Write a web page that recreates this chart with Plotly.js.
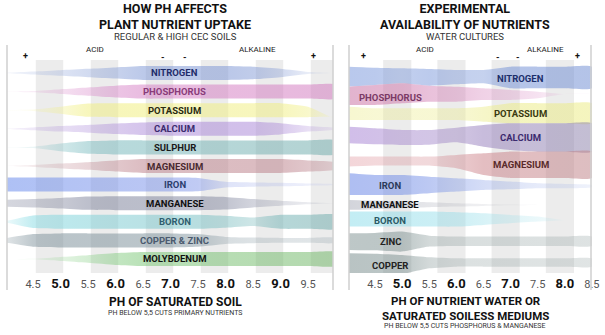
<!DOCTYPE html>
<html><head><meta charset="utf-8">
<script src="https://cdn.plot.ly/plotly-3.0.1.min.js"></script>
<style>html,body{margin:0;padding:0;background:#fff}#chart{width:605px;height:335px}</style>
</head><body><div id="chart"></div>
<script>
// ===== LEFT PANEL: regular & high CEC soils (relative availability, 1 = full band) =====
const soilPH = [4.0,4.5,5.0,5.5,6.0,6.5,7.0,7.5,8.0,8.5,9.0,9.5,10.0];
const soilNutrients = ['NITROGEN','PHOSPHORUS','POTASSIUM','CALCIUM','SULPHUR','MAGNESIUM','IRON','MANGANESE','BORON','COPPER & ZINC','MOLYBDENUM'];
const soilNitrogen   = [0,0.2,0.4,0.6,0.8,1,1,1,1,0.9,0.6,0.15,0];
const soilPhosphorus = [0,0.1,0.35,0.6,0.85,1,1,1,1,1,1,1,1];
const soilPotassium  = [0,0.1,0.5,0.95,1,1,1,1,1,1,1,1,1];
const soilPotassiumTop = [0,0.1,0.5,0.95,1,1,1,1,1,1,1,0.5,-1.2];
const soilCalcium    = [0,0.2,0.4,0.55,0.75,0.9,1,1,1,1,0.8,0.4,0.1];
const soilSulphur    = [0,0.1,0.55,0.9,1,1,1,1,1,1,1,1,1];
const soilMagnesium  = [0,0.15,0.35,0.55,0.8,1,1,1,1,1,1,0.8,0.5];
const soilIron       = [1,1,1,1,1,1,1,0.95,0.4,0.3,0.25,0.15,0.05];
const soilManganese  = [0.5,0.6,0.75,0.95,1,1,1,1,0.9,0.6,0.35,0.15,0];
const soilBoron      = [0.1,0.9,1,1,1,1,1,1,0.85,0.6,1,1,1];
const soilCopperZinc = [0.3,0.9,1,1,1,1,1,0.9,0.5,0.4,0.35,0.35,0.35];
const soilMolybdenum = [0,0.05,0.3,0.55,0.85,1,1,1,1,1,1,1,1];
const soilTicks = [4.5,5.0,5.5,6.0,6.5,7.0,7.5,8.0,8.5,9.0,9.5];
const soilLabelPH = 7.08;

// ===== RIGHT PANEL: water cultures (upper / lower extent of each band) =====
const waterPH = [4.0,4.5,5.0,5.5,6.0,6.5,7.0,7.5,8.0,8.5];
const waterNutrients = ['NITROGEN','PHOSPHORUS','POTASSIUM','CALCIUM','MAGNESIUM','IRON','MANGANESE','BORON','ZINC','COPPER'];
const waterRows = [0,0.97,1.88,3.12,4.62,5.75,6.77,7.63,8.76,10.0];
const waterNitrogenUp   = [1.76,1.62,1.53,1.43,1.29,1.29,1.76,1.76,1.76,1.76];
const waterNitrogenDn   = [1.1,0.86,0.62,0.96,0.76,0.62,1.33,1.33,1.33,1.33];
const waterPhosphorusUp = [1.47,1.71,1.96,1.61,1.47,1.24,1.0,0.76,0.43,0.43];
const waterPhosphorusDn = [1.14,1.14,0.9,0.67,0.67,0.43,0.43,0.19,-0.43,-0.43];
const waterPotassiumUp  = [1.04,0.81,0.81,0.81,0.81,1.04,1.53,1.53,1.53,1.53];
const waterPotassiumDn  = [0.86,0.86,0.86,0.86,0.86,1.1,1.33,1.33,1.33,1.33];
const waterCalciumUp    = [1.47,1.24,1.0,1.0,1.33,1.71,1.96,1.96,1.96,1.96];
const waterCalciumDn    = [0.9,1.04,1.14,1.1,0.76,1.38,1.86,2.1,2.1,2.1];
const waterMagnesiumUp  = [1.19,1.19,1.19,1.19,1.43,1.67,1.9,1.9,1.9,1.9];
const waterMagnesiumDn  = [0.24,0.1,0.1,0.1,0.48,1.43,1.86,1.86,1.86,1.86];
const waterIronUp       = [1.81,1.57,1.57,1.33,1.1,0.86,0.62,0.38,0.29,0.14];
const waterIronDn       = [1.29,1.29,1.29,1.05,0.81,0.57,0.48,0.33,0.33,0.19];
const waterManganeseUp  = [0.71,0.62,0.48,0.38,0.24,0.14,0.05,0,0,0];
const waterManganeseDn  = [0.71,0.62,0.48,0.33,0.24,0.14,0.05,0,0,0];
const waterBoronUp      = [1.33,1.33,1.33,1.33,1.24,1.1,0.86,0.62,0.1,0.1];
const waterBoronDn      = [0.81,0.81,0.81,0.81,0.81,0.57,0.33,0.1,-0.1,-0.1];
const waterZincUp       = [1.24,1.29,1.48,0.9,0.76,0.76,0.76,0.76,0.76,0.76];
const waterZincDn       = [1.14,1.2,1.38,0.67,0.57,0.57,0.57,0.57,0.57,0.57];
const waterCopperUp     = [1.67,1.62,1.43,1.1,0.95,0.95,0.95,0.95,0.95,0.95];
const waterCopperDn     = [1.43,1.43,1.29,0.48,0.24,0.24,0.24,0.24,0.24,0.24];
const waterTicks = [4.5,5.0,5.5,6.0,6.5,7.0,7.5,8.0,8.5];
const waterLabelPH = [7.19,4.78,7.19,7.19,7.19,4.78,4.78,4.78,4.78,4.78];

// ===== styles =====
const W = 605, H = 335;
const S = 7/18.6;        // half thickness of a full band in row units
const soilColors = [
  [[130,155,215],[120,145,210]], [[215,130,200],[210,120,190]], [[240,238,120],[240,238,130]],
  [[165,130,215],[170,135,215]], [[120,190,195],[110,170,170]], [[190,130,140],[185,125,135]],
  [[100,135,235],[150,160,230]], [[120,125,150],[130,135,160]], [[130,220,230],[110,170,170]],
  [[120,140,150],[130,150,160]], [[130,210,130],[110,180,100]]];
const soilLabelColors = ['#1f2d6b','#8a3c7a','#2a2a10','#3a2a6e','#1a1a1a','#4a2a30','#2c3e6e','#111111','#2f5e6e','#4a5a6e','#111111'];
const waterColors = [
  [[120,150,220],[110,140,210]], [[200,110,160],[225,150,210]], [[235,235,140],[235,235,130]],
  [[160,120,210],[140,130,170]], [[220,130,140],[190,130,135]], [[100,130,230],[150,170,230]],
  [[120,125,145],[170,170,180]], [[120,215,230],[170,225,235]], [[120,140,140],[150,165,165]],
  [[120,140,140],[150,165,165]]];
const waterLabelColors = ['#1c2f6b','#7b3a66','#3a3a10','#3b2a6e','#5a2b2b','#2b3a5a','#111111','#2b5a66','#222222','#222222'];

const soilValues = [soilNitrogen,soilPhosphorus,soilPotassium,soilCalcium,soilSulphur,soilMagnesium,soilIron,soilManganese,soilBoron,soilCopperZinc,soilMolybdenum];
const waterUp = [waterNitrogenUp,waterPhosphorusUp,waterPotassiumUp,waterCalciumUp,waterMagnesiumUp,waterIronUp,waterManganeseUp,waterBoronUp,waterZincUp,waterCopperUp];
const waterDn = [waterNitrogenDn,waterPhosphorusDn,waterPotassiumDn,waterCalciumDn,waterMagnesiumDn,waterIronDn,waterManganeseDn,waterBoronDn,waterZincDn,waterCopperDn];

function band(xs, center, up, dn, cols, xa, ya, norm){
  const n = xs.length;
  const x = xs.concat(xs.slice().reverse());
  const top = xs.map((_, i) => center - up[i]*S);
  const bot = xs.map((_, i) => center + dn[i]*S).reverse();
  const x0 = xs[0], x1 = xs[n-1];
  const cs = xs.map((v, i) => {
    const f = (v - x0)/(x1 - x0);
    const t = Math.max(0, Math.min(1, (up[i]+dn[i])/2/norm));
    const a = 0.1 + 0.42*t;
    const c = cols[0].map((c0, k) => Math.round(c0 + (cols[1][k]-c0)*f));
    return [f, `rgba(${c[0]},${c[1]},${c[2]},${a.toFixed(3)})`];
  });
  return {type:'scatter', mode:'lines', x, y: top.concat(bot), xaxis:xa, yaxis:ya,
    fill:'toself', line:{width:0, color:'rgba(0,0,0,0)', shape:'spline', smoothing:0.5},
    fillcolor:`rgba(${cols[0].join(',')},0.4)`,
    fillgradient:{type:'horizontal', colorscale:cs, start:x0, stop:x1},
    hoverinfo:'skip', showlegend:false};
}

const traces = [];
soilValues.forEach((v, i) => {
  const up = (i === 2) ? soilPotassiumTop : v;
  traces.push(band(soilPH, i, up, v, soilColors[i], 'x', 'y', 1));
});
waterUp.forEach((u, i) => {
  traces.push(band(waterPH, waterRows[i], u, waterDn[i], waterColors[i], 'x2', 'y2', 1.3));
});

const FONT = 'Roboto, "Open Sans", sans-serif';
function px(x){ return x/W; }
function py(y){ return 1 - y/H; }
const ann = [];
function T(text, x, y, size, bold, color, anchor){
  ann.push({xref:'paper', yref:'paper', x:px(x), y:py(y), xanchor:'center', yanchor: anchor || 'middle',
    text: bold ? '<b>'+text+'</b>' : text, showarrow:false, borderpad:0,
    font:{family:FONT, size, color: color || '#111'}});
}
// titles
T('HOW PH AFFECTS<br>PLANT NUTRIENT UPTAKE', 175, 0, 12.5, true, '#111', 'top');
T('REGULAR &amp; HIGH CEC SOILS', 175, 36.5, 9.5, false, '#333');
T('EXPERIMENTAL<br>AVAILABILITY OF NUTRIENTS', 465, 0, 12.5, true, '#111', 'top');
T('WATER CULTURES', 465, 36.5, 9.5, false, '#333');
// acid / alkaline scale
T('ACID', 95, 50, 8, false, '#222'); T('ALKALINE', 257, 50, 8, false, '#222');
T('+', 25, 56, 9, true); T('-', 163, 57, 9, true); T('-', 185, 57, 9, true); T('+', 313, 56, 9, true);
T('ACID', 425, 50, 8, false, '#222'); T('ALKALINE', 545, 50, 8, false, '#222');
T('+', 363, 56, 9, true); T('-', 498, 57, 9, true); T('-', 518, 57, 9, true); T('+', 577, 56, 9, true);
// axis titles
T('PH OF SATURATED SOIL', 175, 302, 12, true);
T('PH BELOW 5,5 CUTS PRIMARY NUTRIENTS', 175, 313, 7, false, '#333');
T('PH OF NUTRIENT WATER OR<br>SATURATED SOILESS MEDIUMS', 465, 308, 11.5, true);
T('PH BELOW 5,5 CUTS PHOSPHORUS &amp; MANGANESE', 465, 326, 7, false, '#333');

// band labels
soilNutrients.forEach((name, i) => ann.push({xref:'x', yref:'y', x:soilLabelPH, y:i, text:'<b>'+name.replace('&','&amp;')+'</b>',
  showarrow:false, font:{family:FONT, size:9.5, color:soilLabelColors[i]}}));
waterNutrients.forEach((name, i) => ann.push({xref:'x2', yref:'y2', x:waterLabelPH[i], y:waterRows[i], text:'<b>'+name+'</b>',
  showarrow:false, font:{family:FONT, size:9.5, color:waterLabelColors[i]}}));

// background stripes & frame lines
const shapes = [];
[4.55,5.55,6.55,7.55,8.55,9.55].forEach(s => shapes.push({type:'rect', xref:'x', yref:'y domain', x0:s, x1:Math.min(s+0.5,9.954), y0:0, y1:1,
  fillcolor:'rgba(0,0,0,0.075)', line:{width:0}, layer:'below'}));
[5,6,7,8].forEach(s => shapes.push({type:'rect', xref:'x2', yref:'y2 domain', x0:s-0.35, x1:s+0.17, y0:0, y1:1,
  fillcolor:'rgba(0,0,0,0.075)', line:{width:0}, layer:'below'}));
[7, 333, 349, 591].forEach(x => shapes.push({type:'line', xref:'paper', yref:'paper', x0:px(x), x1:px(x), y0:py(45), y1:py(290),
  line:{color:'#cfcfcf', width:1.5}}));

function tickText(t){
  return t.map(v => Number.isInteger(v)
    ? '<span style="font-size:13px;font-weight:bold;color:#111">'+v.toFixed(1)+'</span>'
    : v.toFixed(1));
}
const axX = {showgrid:false, zeroline:false, showline:false, ticks:'', fixedrange:true, ticklabelstandoff:3,
  tickfont:{family:FONT, size:11, color:'#555'}, tickmode:'array'};
const layout = {
  width:W, height:H, margin:{l:0,r:0,t:0,b:0}, paper_bgcolor:'#fff', plot_bgcolor:'rgba(0,0,0,0)',
  showlegend:false,
  xaxis: Object.assign({}, axX, {domain:[px(7), px(333)], range:[4.0273, 9.9545], tickvals:soilTicks, ticktext:tickText(soilTicks), anchor:'y'}),
  yaxis: {domain:[py(273), py(60)], range:[10.753, -0.699], showgrid:false, zeroline:false, showticklabels:false, fixedrange:true, anchor:'x'},
  xaxis2: Object.assign({}, axX, {domain:[px(349), px(592)], range:[4.0207, 8.502], tickvals:waterTicks, ticktext:tickText(waterTicks), anchor:'y2'}),
  yaxis2: {domain:[py(273), py(60)], range:[10.43, -1.02], showgrid:false, zeroline:false, showticklabels:false, fixedrange:true, anchor:'x2'},
  annotations: ann, shapes
};
Plotly.newPlot('chart', traces, layout, {displayModeBar:false, staticPlot:true});
</script></body></html>
